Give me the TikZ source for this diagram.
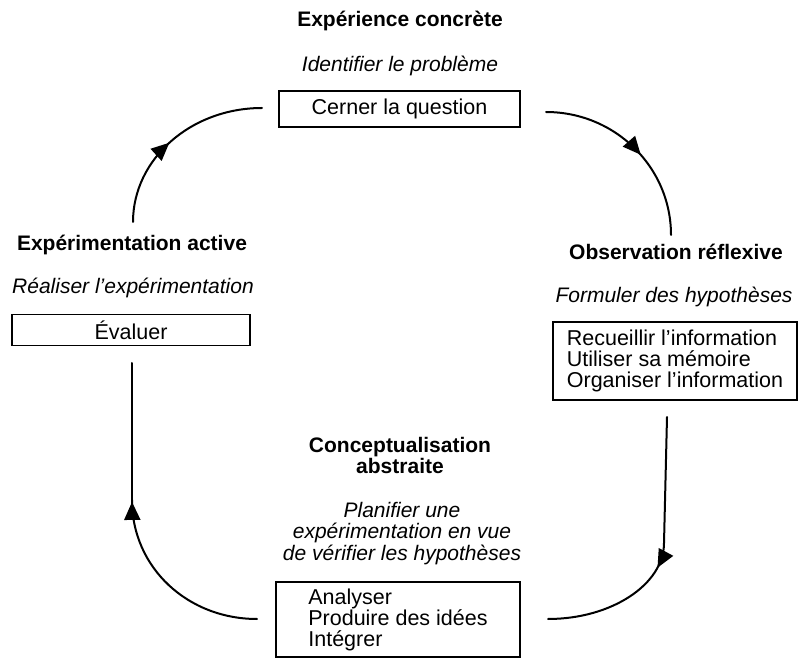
\documentclass[tikz,border=0pt]{standalone}
\usepackage{fontspec}
\setmainfont{Liberation Sans}
\usetikzlibrary{arrows.meta,decorations.markings}
\begin{document}
\begin{tikzpicture}[x=1pt,y=-1pt,
  heading/.style={font=\fontsize{21}{21.5}\selectfont\bfseries, inner sep=0, align=center},
  task/.style={font=\fontsize{21}{21.5}\selectfont\itshape, inner sep=0, align=center},
  box/.style={draw, line width=1.4pt, inner sep=0, font=\fontsize{21.5}{21}\selectfont},
  cycle/.style={line width=2pt, line cap=round},
  tipmark/.style={postaction={decorate, decoration={markings,
      mark=at position #1 with {\arrow{Triangle[length=18pt,width=16pt]}}}}}
]
\fill[white] (0,0) rectangle (801,660);

% Experience concrete
\node[heading, anchor=base] (h1) at (400,27) {Expérience concrète};
\node[task, anchor=base] (t1) at (400,72) {Identifier le problème};
\node[box, minimum width=241, minimum height=36] (b1) at (399.5,109) {Cerner la question};

% Observation reflexive
\node[heading, anchor=base] (h2) at (676,260) {Observation réflexive};
\node[task, anchor=base] (t2) at (674,303) {Formuler des hypothèses};
\node[box, minimum width=244, minimum height=78, align=left] (b2) at (675,361)
  {Recueillir l'information\\Utiliser sa mémoire\\Organiser l'information};

% Conceptualisation abstraite
\node[heading, anchor=north] (h3) at (400,437) {Conceptualisation\\abstraite};
\node[task, anchor=north] (t3) at (402,502) {Planifier une\\expérimentation en vue\\de vérifier les hypothèses};
\node[box, minimum width=244, minimum height=75, align=left] (b3) at (398,619.5)
  {Analyser\\Produire des idées\\Intégrer};

% Experimentation active
\node[heading, anchor=base] (h4) at (132,251) {Expérimentation active};
\node[task, anchor=base] (t4) at (133,294) {Réaliser l'expérimentation};
\node[box, minimum width=238, minimum height=31] (b4) at (131,330) {Évaluer};

% cycle connectors
\coordinate (a1) at (133,222);
\coordinate (a2) at (262,108);
\coordinate (c1) at (546,112);
\coordinate (c2) at (671,235);
\coordinate (d1) at (667,417);
\coordinate (d2) at (664,543);
\coordinate (d3) at (548,619);
\coordinate (e1) at (257,619);
\coordinate (e2) at (132,500);
\coordinate (e3) at (132,363);

\draw[cycle, tipmark=0.47] (a1) .. controls (133,159) and (191,108) .. (a2);
\draw[cycle, tipmark=0.55] (c1) .. controls (615,112) and (671,167) .. (c2);
\draw[cycle] (d1) -- (d2);
\draw[cycle, tipmark=0.17] (d2) .. controls (664,584) and (612,619) .. (d3);
\draw[cycle, tipmark=0.99] (e1) .. controls (188,619) and (132,568) .. (e2);
\draw[cycle] (e2) -- (e3);
\end{tikzpicture}
\end{document}
